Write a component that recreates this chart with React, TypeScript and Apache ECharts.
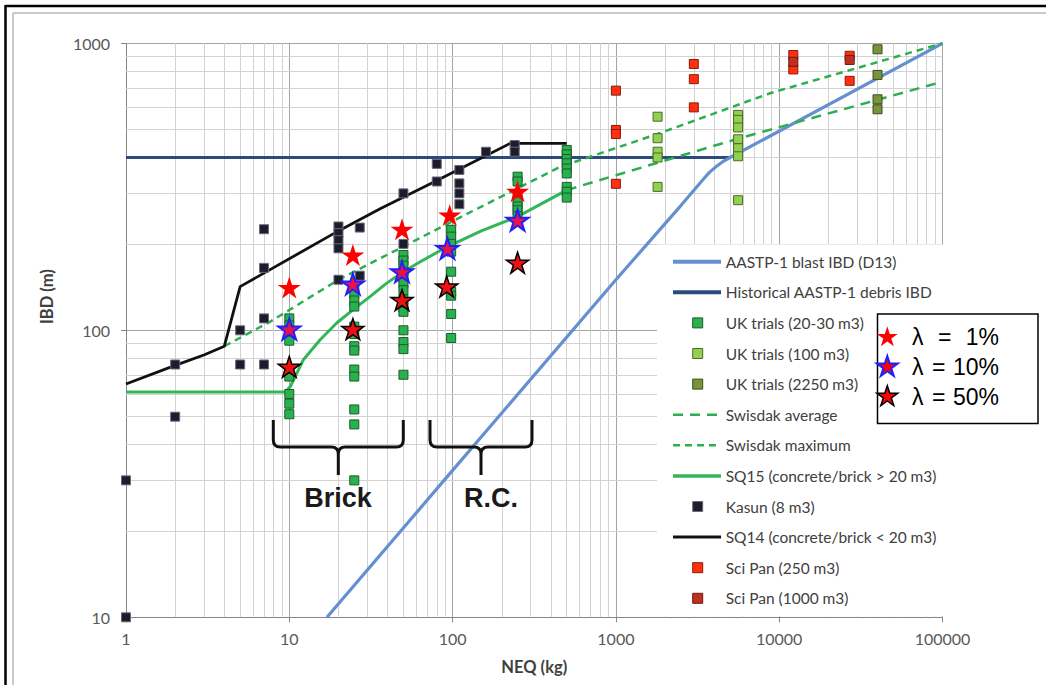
import React, { useEffect, useRef } from 'react';
import * as echarts from 'echarts';

// ---------- tick labels ----------
const xTickLabels = ['1', '10', '100', '1000', '10000', '100000'];
const yTickLabels = ['10', '100', '1000'];
const decadesX = [1, 10, 100, 1000, 10000];
const decadesY = [10, 100];
const minorMultipliers = [2, 3, 4, 5, 6, 7, 8, 9];

// ---------- line series ----------
const blastIBD: [number, number][] = [[17, 10], [100, 32.5], [1000, 150], [2500, 272], [3430, 336], [3711, 353.5], [4074, 370.4], [4487, 385.9], [5000, 400], [100000, 1000]];
const historicalIBD: [number, number][] = [[1, 400], [5000, 400]];
const swisdakAverage: [number, number][] = [[500, 308], [1000, 347], [5570, 465], [100000, 735]];
const swisdakMaximum: [number, number][] = [[4, 88], [7.6, 107], [11.6, 124], [20, 150], [45, 190], [100, 240], [455, 371], [1778, 482], [8790, 670], [100000, 1000]];
const sq15: [number, number][] = [[1, 61], [9.5, 61], [10.2, 64], [12.2, 79], [15.4, 92.5], [19.5, 106], [24.6, 118], [31.2, 131], [39.5, 146], [50, 160], [63, 173], [92, 195], [150, 222], [250, 249], [500, 308], [530, 312]];
const sq14: [number, number][] = [[1, 65], [2, 75.5], [3, 82], [4, 88], [5, 142], [20, 222], [36, 265], [78, 330], [225, 448], [500, 448]];

// ---------- scatter series ----------
const ukTrials2030: [number, number][] = [
  [10, 110], [10, 104], [10, 100], [10, 92], [10, 72], [10, 69], [10, 60], [10, 55.5], [10, 51],
  [25, 140], [25, 134], [25, 127], [25, 121], [25, 103], [25, 97], [25, 88], [25, 85], [25, 73], [25, 69], [25, 53], [25, 47], [25, 30],
  [50, 183], [50, 175], [50, 168], [50, 160], [50, 153], [50, 146], [50, 138], [50, 128], [50, 120], [50, 116], [50, 100], [50, 91], [50, 86], [50, 70],
  [98, 224], [98, 212], [98, 200], [98, 188], [98, 160], [98, 136], [98, 132], [98, 114], [98, 94],
  [250, 343], [250, 330], [250, 292], [250, 281], [250, 270], [250, 262], [250, 250],
  [500, 425], [500, 410], [500, 395], [500, 382], [500, 366], [500, 352], [500, 316], [500, 304], [500, 290],
];
const ukTrials100: [number, number][] = [
  [1800, 555], [1800, 467], [1800, 419], [1800, 400], [1800, 316],
  [5600, 563], [5600, 541], [5600, 509], [5600, 463], [5600, 431], [5600, 404], [5600, 284],
];
const ukTrials2250: [number, number][] = [[40000, 953], [40000, 776], [40000, 638], [40000, 589]];
const kasun: [number, number][] = [
  [1, 10], [1, 30], [2, 50], [2, 76], [5, 100], [5, 76], [7, 76], [7, 110], [7, 165], [7, 225],
  [20, 230], [20, 218], [20, 206], [20, 193], [20, 150], [27, 228], [27, 155],
  [50, 300], [50, 200], [80, 330], [80, 380], [110, 362], [110, 325], [110, 300], [110, 275],
  [160, 419], [240, 442], [240, 419],
];
const sciPan250: [number, number][] = [
  [1000, 684], [1000, 499], [1000, 483], [1000, 324], [3000, 847], [3000, 750], [3000, 598],
  [12200, 910], [12200, 811], [27000, 905], [27000, 740],
];
const sciPan1000: [number, number][] = [[12200, 862], [27000, 875]];

// ---------- star series (lambda) ----------
const lambda1: [number, number][] = [[10, 141], [24.5, 183], [49, 225], [96, 252], [250, 305]];
const lambda10: [number, number][] = [[10, 101], [24.5, 145], [49, 160], [93, 193], [250, 242]];
const lambda50: [number, number][] = [[10, 74.6], [24.5, 101], [49, 127.5], [92, 142], [250, 172]];
const lambdaLabels = ['1%', '10%', '50%'];

// ---------- colours ----------
const C = {
  blast: '#6590d0', navy: '#2b4a7e', green: '#2eae50', sq15: '#33b55a', black: '#111111',
  uk2030: '#27b24e', uk2030b: '#1e5a2c', uk100: '#92d050', uk100b: '#4b6b2a',
  uk2250: '#77933c', uk2250b: '#3d4d1f', kasun: '#1c1c2c', kasunb: '#6a6a7a',
  sp250: '#ff3010', sp250b: '#8b1a0a', sp1000: '#c0301e', sp1000b: '#6b1a10',
};

type LegendItem = { name: string; kind: 'line' | 'square'; color: string; border?: string; width?: number; dash?: number[] };
const legendItems: LegendItem[] = [
  { name: 'AASTP-1 blast IBD (D13)', kind: 'line', color: C.blast, width: 4 },
  { name: 'Historical AASTP-1 debris IBD', kind: 'line', color: C.navy, width: 4 },
  { name: 'UK trials (20-30 m3)', kind: 'square', color: C.uk2030, border: C.uk2030b },
  { name: 'UK trials (100 m3)', kind: 'square', color: C.uk100, border: C.uk100b },
  { name: 'UK trials (2250 m3)', kind: 'square', color: C.uk2250, border: C.uk2250b },
  { name: 'Swisdak average', kind: 'line', color: C.green, width: 2.5, dash: [10, 7] },
  { name: 'Swisdak maximum', kind: 'line', color: C.green, width: 2.5, dash: [7, 5] },
  { name: 'SQ15 (concrete/brick > 20 m3)', kind: 'line', color: C.sq15, width: 3.5 },
  { name: 'Kasun (8 m3)', kind: 'square', color: C.kasun, border: C.kasunb },
  { name: 'SQ14 (concrete/brick < 20 m3)', kind: 'line', color: C.black, width: 3 },
  { name: 'Sci Pan (250 m3)', kind: 'square', color: C.sp250, border: C.sp250b },
  { name: 'Sci Pan (1000 m3)', kind: 'square', color: C.sp1000, border: C.sp1000b },
];

const STAR_PATH = 'path://M50,2 L61.23,36.55 L97.55,36.55 L68.16,57.9 L79.39,92.45 L50,71.1 L20.61,92.45 L31.84,57.9 L2.45,36.55 L38.77,36.55 Z';

function starPoints(cx: number, cy: number, R: number) {
  const r = R * 0.382;
  const pts: number[][] = [];
  for (let i = 0; i < 10; i++) {
    const a = -Math.PI / 2 + (i * Math.PI) / 5;
    const rad = i % 2 === 0 ? R : r;
    pts.push([cx + rad * Math.cos(a), cy + rad * Math.sin(a)]);
  }
  return pts;
}

const FONT = 'Lato, "Open Sans", sans-serif';
const ARIAL = '"Liberation Sans", Arial, sans-serif';

function lineSeries(name: string, data: [number, number][], color: string, width: number, type: any = 'solid') {
  return {
    name, type: 'line', data, symbol: 'none', showSymbol: false, smooth: false,
    lineStyle: { color, width, type }, itemStyle: { color }, z: 2, silent: true,
  };
}
function squareSeries(name: string, data: [number, number][], fill: string, border: string) {
  return {
    name, type: 'scatter', data, symbol: 'rect', symbolSize: 9,
    itemStyle: { color: fill, borderColor: border, borderWidth: 1, opacity: 1 }, z: 2, silent: true,
  };
}
function starSeries(name: string, data: [number, number][], fill: string, border: string, bw: number, size: number) {
  return {
    name, type: 'scatter', data, symbol: STAR_PATH, symbolSize: size, symbolKeepAspect: true,
    itemStyle: { color: fill, borderColor: border, borderWidth: bw, opacity: 1 }, z: 2, silent: true,
  };
}

export default function App() {
  const ref = useRef<HTMLDivElement>(null);
  useEffect(() => {
    if (!ref.current) return;
    const braceBrick = 'M0,0 L0,20 Q0,27 7,27 L58,27 Q65,27 65,34 L65,55 M65,34 Q65,27 72,27 L123,27 Q130,27 130,20 L130,0';
    const braceRC = 'M0,0 L0,20 Q0,27 7,27 L44,27 Q51,27 51,34 L51,55 M51,34 Q51,27 58,27 L95,27 Q102,27 102,20 L102,0';
    echarts.graphic.registerShape('braceBrick', echarts.graphic.extendPath(braceBrick, {}));
    echarts.graphic.registerShape('braceRC', echarts.graphic.extendPath(braceRC, {}));

    const chart = echarts.init(ref.current, null, { renderer: 'svg' });

    const minorX: any[] = [];
    decadesX.forEach((d) => minorMultipliers.forEach((m) => minorX.push({ xAxis: d * m })));
    const minorY: any[] = [];
    decadesY.forEach((d) => minorMultipliers.forEach((m) => minorY.push({ yAxis: d * m })));

    const labelFmt = (v: number) => String(Math.round(v));

    const lamRows = [337.3, 367, 396.7];
    const lamStyles = [
      { fill: '#ff0000', stroke: '#ff0000', lineWidth: 0 },
      { fill: '#ff0000', stroke: '#2020ff', lineWidth: 2 },
      { fill: '#ff0000', stroke: '#000000', lineWidth: 1.5 },
    ];
    const eqX = [938, 932, 932];

    const graphic: any[] = [
      // legend background
      { type: 'rect', shape: { x: 657, y: 244.6, width: 292, height: 371.6 }, style: { fill: '#ffffff' }, z: 3, silent: true },
      // outer frame
      { type: 'line', shape: { x1: 5.5, y1: 6, x2: 1046, y2: 6 }, style: { stroke: '#000', lineWidth: 2.5 }, z: 20, silent: true },
      { type: 'line', shape: { x1: 5.5, y1: 5, x2: 5.5, y2: 685 }, style: { stroke: '#000', lineWidth: 2.5 }, z: 20, silent: true },
      { type: 'line', shape: { x1: 13, y1: 13, x2: 1046, y2: 13 }, style: { stroke: '#b8b8b8', lineWidth: 1.5 }, z: 20, silent: true },
      { type: 'line', shape: { x1: 13, y1: 13, x2: 13, y2: 685 }, style: { stroke: '#b8b8b8', lineWidth: 1.5 }, z: 20, silent: true },
      // y axis title
      {
        type: 'text', x: 46.7, y: 296.7, rotation: Math.PI / 2, z: 20, silent: true,
        style: { text: 'IBD (m)', fill: '#404040', font: `bold 16.5px ${FONT}`, align: 'center', verticalAlign: 'middle' },
      },
      // braces
      { type: 'braceBrick', x: 273.3, y: 420, style: { stroke: '#111', lineWidth: 3, fill: 'none' }, z: 20, silent: true },
      { type: 'braceRC', x: 430, y: 420, style: { stroke: '#111', lineWidth: 3, fill: 'none' }, z: 20, silent: true },
      {
        type: 'text', x: 338, y: 498, z: 20, silent: true,
        style: { text: 'Brick', fill: '#1a1a1a', font: `bold 27px ${ARIAL}`, align: 'center', verticalAlign: 'middle' },
      },
      {
        type: 'text', x: 491, y: 498, z: 20, silent: true,
        style: { text: 'R.C.', fill: '#1a1a1a', font: `bold 27px ${ARIAL}`, align: 'center', verticalAlign: 'middle' },
      },
      // lambda box
      { type: 'rect', shape: { x: 877.5, y: 314, width: 160.5, height: 109.5 }, style: { fill: '#fff', stroke: '#000', lineWidth: 1.5 }, z: 20, silent: true },
    ];
    lamRows.forEach((cy, i) => {
      graphic.push({ type: 'polygon', shape: { points: starPoints(887.3, cy, 11) }, style: lamStyles[i], z: 21, silent: true });
      graphic.push({ type: 'text', x: 912, y: cy, z: 21, silent: true, style: { text: 'λ', fill: '#000', font: `23px ${ARIAL}`, align: 'left', verticalAlign: 'middle' } });
      graphic.push({ type: 'text', x: eqX[i], y: cy, z: 21, silent: true, style: { text: '=', fill: '#000', font: `23px ${ARIAL}`, align: 'left', verticalAlign: 'middle' } });
      graphic.push({ type: 'text', x: 999, y: cy, z: 21, silent: true, style: { text: lambdaLabels[i], fill: '#000', font: `23px ${ARIAL}`, align: 'right', verticalAlign: 'middle' } });
    });

    // manual legend (drawn above the white background)
    legendItems.forEach((it, i) => {
      const cy = 261.7 + i * 30.6;
      if (it.kind === 'line') {
        graphic.push({
          type: 'line', shape: { x1: 673, y1: cy, x2: 721, y2: cy }, z: 5, silent: true,
          style: { stroke: it.color, lineWidth: it.width, lineDash: it.dash || null },
        });
      } else {
        graphic.push({
          type: 'rect', shape: { x: 692.7, y: cy - 5, width: 10, height: 10 }, z: 5, silent: true,
          style: { fill: it.color, stroke: it.border, lineWidth: 1 },
        });
      }
      graphic.push({
        type: 'text', x: 725.7, y: cy, z: 5, silent: true,
        style: { text: it.name, fill: '#404040', font: `15.5px ${FONT}`, align: 'left', verticalAlign: 'middle' },
      });
    });

    const option: any = {
      animation: false,
      backgroundColor: '#ffffff',
      grid: { left: 126, top: 43.3, width: 816.5, height: 574, containLabel: false },
      xAxis: {
        type: 'log', logBase: 10, min: 1, max: 100000,
        name: 'NEQ (kg)', nameLocation: 'middle', nameGap: 41,
        nameTextStyle: { fontFamily: FONT, fontWeight: 'bold', fontSize: 16.5, color: '#404040' },
        axisLine: { show: true, lineStyle: { color: '#868686', width: 1 } },
        axisTick: { show: true, length: 5, lineStyle: { color: '#868686' } },
        axisLabel: { formatter: labelFmt, fontFamily: FONT, fontSize: 16, color: '#595959', margin: 13 },
        splitLine: { show: true, lineStyle: { color: '#a4a4a4', width: 1 } },
      },
      yAxis: {
        type: 'log', logBase: 10, min: 10, max: 1000,
        axisLine: { show: true, lineStyle: { color: '#868686', width: 1 } },
        axisTick: { show: true, length: 5, lineStyle: { color: '#868686' } },
        axisLabel: { formatter: labelFmt, fontFamily: FONT, fontSize: 16, color: '#595959', margin: 16 },
        splitLine: { show: true, lineStyle: { color: '#a4a4a4', width: 1 } },
      },
      graphic,
      series: [
        {
          name: '__minorGrid', type: 'line', data: [], silent: true, z: 1,
          markLine: {
            silent: true, symbol: ['none', 'none'], label: { show: false }, z: 1, animation: false,
            lineStyle: { color: '#d2d2d2', width: 1, type: 'solid' },
            emphasis: { disabled: true },
            data: [...minorX, ...minorY],
          },
        },
        lineSeries('Historical AASTP-1 debris IBD', historicalIBD, C.navy, 3),
        lineSeries('AASTP-1 blast IBD (D13)', blastIBD, C.blast, 3.2),
        lineSeries('Swisdak average', swisdakAverage, C.green, 2.5, [10, 7]),
        lineSeries('Swisdak maximum', swisdakMaximum, C.green, 2.5, [7, 5]),
        lineSeries('SQ15 (concrete/brick > 20 m3)', sq15, C.sq15, 3),
        lineSeries('SQ14 (concrete/brick < 20 m3)', sq14, C.black, 2.8),
        squareSeries('UK trials (20-30 m3)', ukTrials2030, C.uk2030, C.uk2030b),
        squareSeries('UK trials (100 m3)', ukTrials100, C.uk100, C.uk100b),
        squareSeries('UK trials (2250 m3)', ukTrials2250, C.uk2250, C.uk2250b),
        squareSeries('Kasun (8 m3)', kasun, C.kasun, C.kasunb),
        squareSeries('Sci Pan (250 m3)', sciPan250, C.sp250, C.sp250b),
        squareSeries('Sci Pan (1000 m3)', sciPan1000, C.sp1000, C.sp1000b),
        starSeries('λ = 50%', lambda50, '#ee1111', '#000000', 1.5, 22),
        starSeries('λ = 10%', lambda10, '#ee1144', '#2020ff', 2, 22),
        starSeries('λ = 1%', lambda1, '#ff0000', '#ff0000', 0, 23),
      ],
    };
    chart.setOption(option);
    return () => chart.dispose();
  }, []);
  return <div ref={ref} style={{ position: 'absolute', left: 0, top: 0, width: 1046, height: 685 }} />;
}
